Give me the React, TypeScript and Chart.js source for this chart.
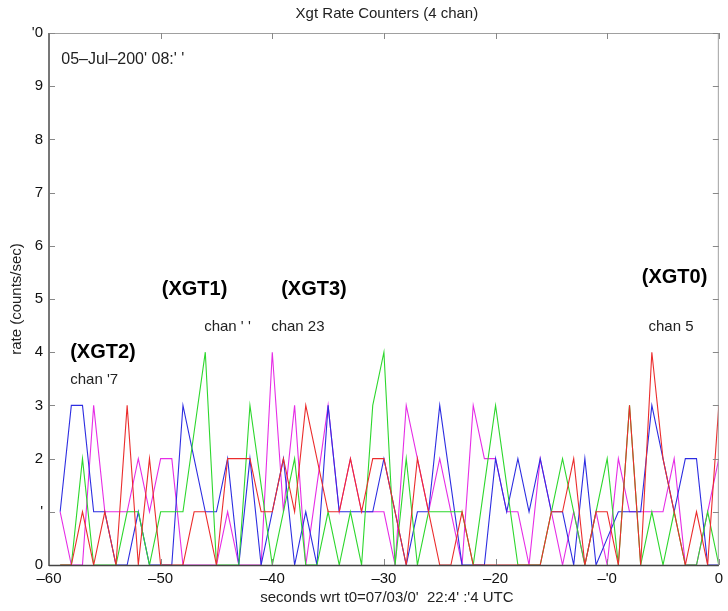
import { useEffect, useRef } from 'react';
import { Chart, registerables } from 'chart.js';
Chart.register(...registerables);

// time axis (seconds wrt t0)
const times = [
  -59, -58, -57, -56, -55, -54, -53, -52, -51, -50,
  -49, -48, -47, -46, -45, -44, -43, -42, -41, -40,
  -39, -38, -37, -36, -35, -34, -33, -32, -31, -30,
  -29, -28, -27, -26, -25, -24, -23, -22, -21, -20,
  -19, -18, -17, -16, -15, -14, -13, -12, -11, -10,
  -9, -8, -7, -6, -5, -4, -3, -2, -1, 0,
];

// XGT0 (chan 5) - red
const xgt0 = [
  0, 0, 1, 0, 1, 0, 3, 0, 2, 0,
  0, 0, 1, 1, 0, 2, 2, 2, 1, 1,
  2, 1, 3, 2, 1, 1, 2, 1, 2, 2,
  1, 0, 2, 1, 0, 0, 1, 0, 0, 0,
  0, 0, 0, 0, 1, 1, 2, 0, 1, 1,
  0, 3, 0, 4, 2, 1, 0, 1, 0, 3,
];
// XGT1 (chan 11) - green
const xgt1 = [
  0, 0, 2, 0, 0, 0, 1, 1, 0, 1,
  1, 1, 2.5, 4, 0, 0, 0, 3, 1.5, 0,
  1, 2, 0, 0, 1, 0, 1, 0, 3, 4,
  0, 2, 0, 1, 1, 1, 1, 0, 1.5, 3,
  1.5, 0, 0, 0, 1, 2, 1, 0, 1, 2,
  0, 3, 0, 1, 0, 1, 0, 0, 1, 0,
];
// XGT2 (chan 17) - blue
const xgt2 = [
  1, 3, 3, 1, 1, 0, 0, 1, 0, 0,
  0, 3, 2, 1, 1, 2, 0, 2, 0, 1,
  2, 0, 1, 0, 3, 1, 1, 1, 1, 2,
  1, 0, 1, 1, 3, 1.5, 0, 0, 0, 2,
  1, 2, 1, 2, 1, 1, 0, 2, 0, 0.5,
  1, 1, 1, 3, 2, 1, 2, 2, 0, 0,
];
// XGT3 (chan 23) - magenta
const xgt3 = [
  1, 0, 0, 3, 1, 1, 1, 2, 1, 2,
  2, 0, 0, 0, 0, 1, 0, 0, 0, 4,
  1, 3, 0, 1.5, 3, 1, 2, 1, 1, 1,
  0, 3, 2, 1, 2, 1, 0, 3, 2, 2,
  1, 1, 0, 2, 1, 0, 1, 0, 1, 0,
  2, 1, 1, 1, 1, 2, 0, 0, 1, 2,
];

const seriesNames = ['XGT0', 'XGT1', 'XGT2', 'XGT3'];
const seriesColors = ['rgb(235,45,45)', 'rgb(45,215,45)', 'rgb(45,45,225)', 'rgb(230,45,230)'];

const xTickValues = [-60, -50, -40, -30, -20, -10, 0];
const xTickLabels = ['–60', '–50', '–40', '–30', '–20', "–'0", '0'];
const yTickValues = [0, 1, 2, 3, 4, 5, 6, 7, 8, 9, 10];
const yTickLabels = ['0', "'", '2', '3', '4', '5', '6', '7', '8', '9', "'0"];

const titleText = 'Xgt Rate Counters (4 chan)';
const xTitle = "seconds wrt t0=07/03/0'  22:4' :'4 UTC";
const yTitle = 'rate (counts/sec)';

// annotation texts anchored in data coordinates [t, rate]
const noteTexts = ["05–Jul–200' 08:' '", '(XGT2)', "chan '7", '(XGT1)', "chan ' '", '(XGT3)', 'chan 23', '(XGT0)', 'chan 5'];
const noteT = [-58.9, -58.1, -58.1, -49.9, -46.1, -39.2, -40.1, -6.9, -6.3];
const noteV = [9.5, 4.0, 3.48, 5.17, 4.47, 5.17, 4.47, 5.4, 4.47];
const noteSize = [16, 20, 15, 20, 15, 20, 15, 20, 15];
const noteBold = [false, true, false, true, false, true, false, true, false];

const FONT = "'Liberation Sans', Arial, Helvetica, sans-serif";

const framePlugin = {
  id: 'frameAndText',
  afterDatasetsDraw(chart: any) {
    const { ctx, chartArea: a, scales } = chart;
    const xs = scales.x;
    const ys = scales.y;
    ctx.save();
    // top & right frame
    ctx.strokeStyle = '#a0a0a0';
    ctx.lineWidth = 1;
    ctx.beginPath();
    ctx.moveTo(a.left, a.top + 0.5);
    ctx.lineTo(a.right - 0.5, a.top + 0.5);
    ctx.lineTo(a.right - 0.5, a.bottom);
    ctx.stroke();
    // inward ticks
    ctx.strokeStyle = '#888';
    ctx.beginPath();
    xTickValues.forEach((v) => {
      const px = Math.round(xs.getPixelForValue(v)) + 0.5;
      ctx.moveTo(px, a.top);
      ctx.lineTo(px, a.top + 6);
      ctx.moveTo(px, a.bottom);
      ctx.lineTo(px, a.bottom - 6);
    });
    yTickValues.forEach((v) => {
      const py = Math.round(ys.getPixelForValue(v)) + 0.5;
      ctx.moveTo(a.left, py);
      ctx.lineTo(a.left + 6, py);
      ctx.moveTo(a.right, py);
      ctx.lineTo(a.right - 6, py);
    });
    ctx.stroke();
    // left axis
    ctx.strokeStyle = '#777';
    ctx.lineWidth = 2;
    ctx.beginPath();
    ctx.moveTo(a.left, a.top);
    ctx.lineTo(a.left, a.bottom + 1);
    ctx.stroke();
    // bottom axis
    ctx.strokeStyle = '#444';
    ctx.lineWidth = 1.5;
    ctx.beginPath();
    ctx.moveTo(a.left, a.bottom + 0.5);
    ctx.lineTo(a.right, a.bottom + 0.5);
    ctx.stroke();

    // titles
    ctx.fillStyle = '#222';
    ctx.textBaseline = 'middle';
    ctx.textAlign = 'center';
    ctx.font = `15px ${FONT}`;
    ctx.fillText(titleText, (a.left + a.right) / 2 + 3, 14);
    ctx.fillText(xTitle, (a.left + a.right) / 2 + 3, 598);
    ctx.save();
    ctx.translate(17, (a.top + a.bottom) / 2);
    ctx.rotate(-Math.PI / 2);
    ctx.fillText(yTitle, 0, 0);
    ctx.restore();

    // annotations
    ctx.textAlign = 'left';
    noteTexts.forEach((t, i) => {
      ctx.font = `${noteBold[i] ? 'bold ' : ''}${noteSize[i]}px ${FONT}`;
      ctx.fillStyle = noteBold[i] ? '#000' : '#222';
      ctx.fillText(t, xs.getPixelForValue(noteT[i]), ys.getPixelForValue(noteV[i]));
    });
    ctx.restore();
  },
};

export default function App() {
  const ref = useRef<HTMLCanvasElement>(null);
  useEffect(() => {
    document.body.style.margin = '0';
    const canvas = ref.current!;
    const series = [xgt0, xgt1, xgt2, xgt3];
    const chart = new Chart(canvas, {
      type: 'line',
      data: {
        datasets: series.map((vals, k) => ({
          label: seriesNames[k],
          data: times.map((t, i) => ({ x: t, y: vals[i] })),
          borderColor: seriesColors[k],
          backgroundColor: seriesColors[k],
          borderWidth: 1.1,
          pointRadius: 0,
          tension: 0,
          fill: false,
        })),
      },
      options: {
        animation: false,
        responsive: false,
        devicePixelRatio: 1,
        layout: { padding: { top: 33, right: 1, left: 0, bottom: 0 } },
        plugins: { legend: { display: false }, title: { display: false }, tooltip: { enabled: false } },
        scales: {
          x: {
            type: 'linear',
            min: -60,
            max: 0,
            afterFit: (s: any) => { s.height = 46; },
            afterBuildTicks: (s: any) => { s.ticks = xTickValues.map((v) => ({ value: v })); },
            ticks: {
              callback: (v: any) => xTickLabels[xTickValues.indexOf(Number(v))],
              font: { family: FONT, size: 15 },
              color: '#111',
              padding: 5,
              maxRotation: 0,
              autoSkip: false,
            },
            grid: { display: false, drawTicks: false },
            border: { display: false },
          },
          y: {
            type: 'linear',
            min: 0,
            max: 10,
            afterFit: (s: any) => { s.width = 49; },
            afterBuildTicks: (s: any) => { s.ticks = yTickValues.map((v) => ({ value: v })); },
            ticks: {
              callback: (v: any) => yTickLabels[yTickValues.indexOf(Number(v))],
              font: { family: FONT, size: 15 },
              color: '#111',
              padding: 6,
              autoSkip: false,
            },
            grid: { display: false, drawTicks: false },
            border: { display: false },
          },
        },
      },
      plugins: [framePlugin],
    });
    return () => chart.destroy();
  }, []);
  return <canvas ref={ref} width={728} height={611} style={{ display: 'block' }} />;
}
